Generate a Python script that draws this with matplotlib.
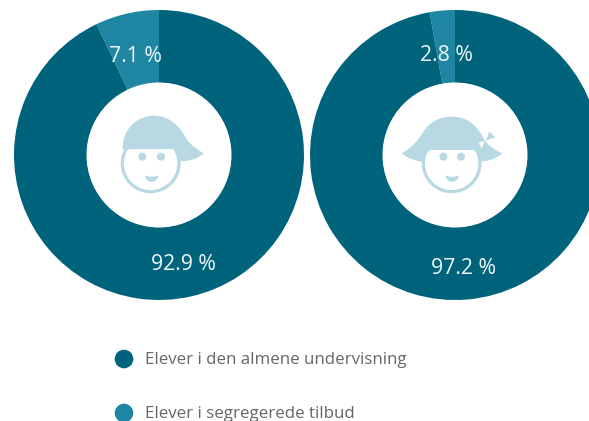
import matplotlib
matplotlib.use('Agg')
import matplotlib.pyplot as plt
from matplotlib.patches import Circle, PathPatch, Polygon
from matplotlib.path import Path

plt.rcParams['font.family'] = ['Open Sans', 'DejaVu Sans']

series_names = ['Elever i segregerede tilbud', 'Elever i den almene undervisning']
boys = [7.1, 92.9]
girls = [2.8, 97.2]
boys_labels = ['7.1 %', '92.9 %']
girls_labels = ['2.8 %', '97.2 %']

dark = '#00637c'
light = '#1e86a3'
icon = '#b8d9e4'
W, H = 589, 421
M, L, C, Z = Path.MOVETO, Path.LINETO, Path.CURVE4, Path.CLOSEPOLY


def fy(y):
    return H - y


fig = plt.figure(figsize=(5.89, 4.21), dpi=100)
ax = fig.add_axes([0, 0, 1, 1])


def donut(values, cx, labels, label_pos):
    ax.pie(values, colors=[light, dark], startangle=90, counterclock=True,
           center=(cx, fy(155)), radius=145, frame=True,
           wedgeprops=dict(width=73, linewidth=0))
    ax.add_patch(Circle((cx, fy(155)), 72.5, fc='white', ec='none', zorder=3))
    for lab, (x, y) in zip(labels, label_pos):
        ax.text(x, fy(y), lab, color='#eef6f8', fontsize=15.3, ha='center',
                va='center', zorder=4)


def zp(points, ox):
    return [(ox + x / 3, fy(y / 3)) for x, y in points]


def shape(points, ox, codes=None, color=icon):
    pts = zp(points, ox)
    if codes is None:
        ax.add_patch(Polygon(pts, closed=True, fc=color, ec='none', zorder=6))
    else:
        ax.add_patch(PathPatch(Path(pts, codes), fc=color, ec='none', lw=0, zorder=6))


def face(ox, cx, cy, r, eyes):
    c = zp([(cx, cy)], ox)[0]
    ax.add_patch(Circle(c, r / 3, fc='white', ec=icon, lw=2.3, zorder=5))
    for ex in eyes:
        ax.add_patch(Circle(zp([(ex, 470)], ox)[0], 4, fc=icon, ec='none', zorder=7))
    mx = (eyes[0] + eyes[1]) / 2
    shape([(mx - 20, 526), (mx - 8, 532), (mx + 8, 532), (mx + 20, 526),
           (mx + 18, 552), (mx - 18, 552), (mx - 20, 526), (mx - 20, 526)], ox,
          [M, C, C, C, C, C, C, Z])


donut(boys, 159, boys_labels, [(135, 56.5), (183, 264)])
donut(girls, 455, girls_labels, [(446, 55.5), (463.5, 268)])

# boy
face(80, 212, 490, 85, (187, 243))
shape([(128, 448),
       (125, 390), (170, 347), (222, 347),
       (270, 347), (300, 380), (318, 415),
       (335, 440), (355, 450), (372, 460),
       (350, 478), (325, 485), (298, 483),
       (296, 470), (290, 455), (282, 447),
       (128, 448), (128, 448)], 80,
      [M, C, C, C, C, C, C, C, C, C, C, C, C, C, C, C, L, Z])

# girl
face(380, 215, 490, 85, (190, 243))
shape([(65, 460),
       (95, 445), (115, 420), (130, 395),
       (150, 365), (180, 350), (215, 350),
       (260, 350), (290, 375), (308, 410),
       (320, 435), (345, 450), (367, 460),
       (345, 478), (320, 486), (298, 484),
       (296, 470), (290, 458), (282, 450),
       (150, 450),
       (140, 458), (133, 470), (131, 485),
       (110, 485), (85, 475), (65, 460),
       (65, 460)], 380,
      [M, C, C, C, C, C, C, C, C, C, C, C, C, C, C, C, C, C, C, L,
       C, C, C, C, C, C, Z])
shape([(296, 428), (314, 424), (305, 445)], 380, color='white')
shape([(318, 422), (328, 395), (346, 412)], 380)

# legend
legend_y = [359, 413]
for name, col, y in zip(series_names[::-1], [dark, light], legend_y):
    ax.add_patch(Circle((124, fy(y)), 9.3, fc=col, ec='none'))
    ax.text(145, fy(y + 1), name, color='#666666', fontsize=12.2, ha='left', va='center')

ax.set_xlim(0, W)
ax.set_ylim(0, H)
ax.set_aspect('auto')
ax.axis('off')
fig.savefig('out.png', dpi=100)
